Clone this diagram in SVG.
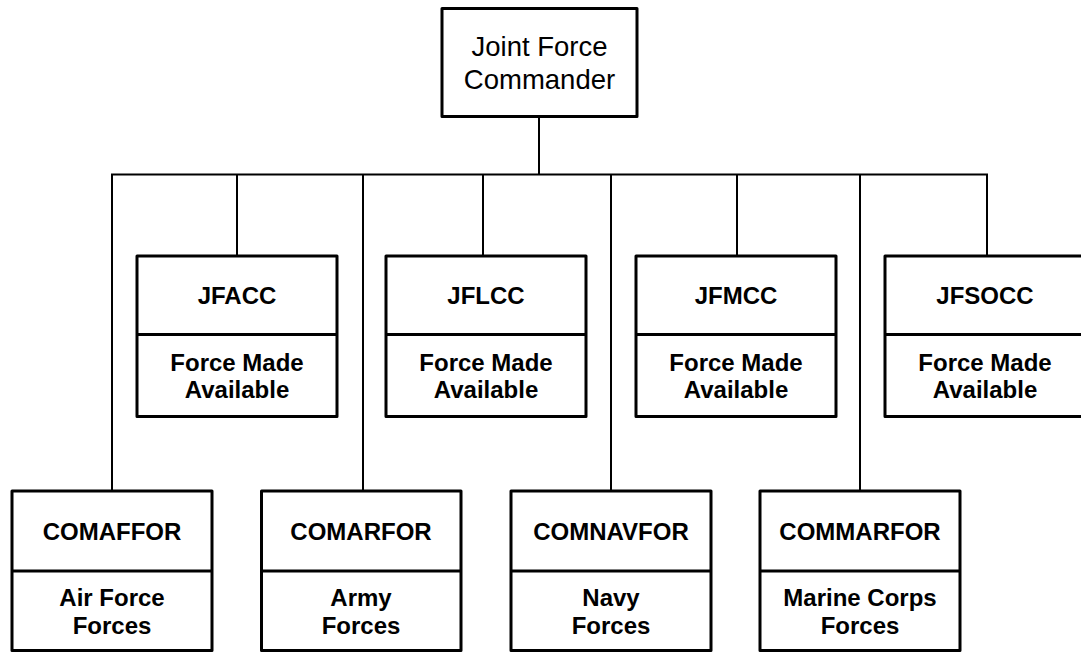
<svg xmlns="http://www.w3.org/2000/svg" width="1081" height="652" viewBox="0 0 1081 652">
<style>
.box{fill:#fff;stroke:#000;stroke-width:3;stroke-linejoin:round}
.div{stroke:#000;stroke-width:3}
.con{stroke:#000;stroke-width:2;fill:none}
.t{font-family:"Liberation Sans",Arial,sans-serif;font-size:24px;font-weight:bold;text-anchor:middle;fill:#000}
.r{font-family:"Liberation Sans",Arial,sans-serif;font-size:27.5px;text-anchor:middle;fill:#000}
</style>
<rect width="1081" height="652" fill="#fff"/>
<g id="connectors">
<line class="con" x1="539" y1="117" x2="539" y2="174.5"/>
<line class="con" x1="111" y1="174.5" x2="988" y2="174.5"/>
<line class="con" x1="112" y1="174.5" x2="112" y2="491"/>
<line class="con" x1="237" y1="174.5" x2="237" y2="256"/>
<line class="con" x1="363" y1="174.5" x2="363" y2="491"/>
<line class="con" x1="483" y1="174.5" x2="483" y2="256"/>
<line class="con" x1="611" y1="174.5" x2="611" y2="491"/>
<line class="con" x1="737" y1="174.5" x2="737" y2="256"/>
<line class="con" x1="860" y1="174.5" x2="860" y2="491"/>
<line class="con" x1="987" y1="174.5" x2="987" y2="256"/>
</g>
<g id="jfc">
<rect class="box" x="442" y="8.5" width="195" height="108"/>
<text class="r" x="539.5" y="56">Joint Force</text>
<text class="r" x="539.5" y="88.5">Commander</text>
</g>
<g id="jfacc">
<rect class="box" x="137" y="256" width="200" height="160.5"/>
<line class="div" x1="137" y1="334.5" x2="337" y2="334.5"/>
<text class="t" x="237" y="304">JFACC</text>
<text class="t" x="237" y="370.5">Force Made</text>
<text class="t" x="237" y="398">Available</text>
</g>
<g id="jflcc">
<rect class="box" x="386" y="256" width="200" height="160.5"/>
<line class="div" x1="386" y1="334.5" x2="586" y2="334.5"/>
<text class="t" x="486" y="304">JFLCC</text>
<text class="t" x="486" y="370.5">Force Made</text>
<text class="t" x="486" y="398">Available</text>
</g>
<g id="jfmcc">
<rect class="box" x="636" y="256" width="200" height="160.5"/>
<line class="div" x1="636" y1="334.5" x2="836" y2="334.5"/>
<text class="t" x="736" y="304">JFMCC</text>
<text class="t" x="736" y="370.5">Force Made</text>
<text class="t" x="736" y="398">Available</text>
</g>
<g id="jfsocc">
<rect class="box" x="885" y="256" width="200" height="160.5"/>
<line class="div" x1="885" y1="334.5" x2="1085" y2="334.5"/>
<text class="t" x="985" y="304">JFSOCC</text>
<text class="t" x="985" y="370.5">Force Made</text>
<text class="t" x="985" y="398">Available</text>
</g>
<g id="comaffor">
<rect class="box" x="12" y="491" width="200" height="159.5"/>
<line class="div" x1="12" y1="571" x2="212" y2="571"/>
<text class="t" x="112" y="539.5">COMAFFOR</text>
<text class="t" x="112" y="606">Air Force</text>
<text class="t" x="112" y="633.5">Forces</text>
</g>
<g id="comarfor">
<rect class="box" x="261.5" y="491" width="199.5" height="159.5"/>
<line class="div" x1="261.5" y1="571" x2="461" y2="571"/>
<text class="t" x="361" y="539.5">COMARFOR</text>
<text class="t" x="361" y="606">Army</text>
<text class="t" x="361" y="633.5">Forces</text>
</g>
<g id="comnavfor">
<rect class="box" x="511" y="491" width="200" height="159.5"/>
<line class="div" x1="511" y1="571" x2="711" y2="571"/>
<text class="t" x="611" y="539.5">COMNAVFOR</text>
<text class="t" x="611" y="606">Navy</text>
<text class="t" x="611" y="633.5">Forces</text>
</g>
<g id="commarfor">
<rect class="box" x="760" y="491" width="200" height="159.5"/>
<line class="div" x1="760" y1="571" x2="960" y2="571"/>
<text class="t" x="860" y="539.5">COMMARFOR</text>
<text class="t" x="860" y="606">Marine Corps</text>
<text class="t" x="860" y="633.5">Forces</text>
</g>
</svg>
